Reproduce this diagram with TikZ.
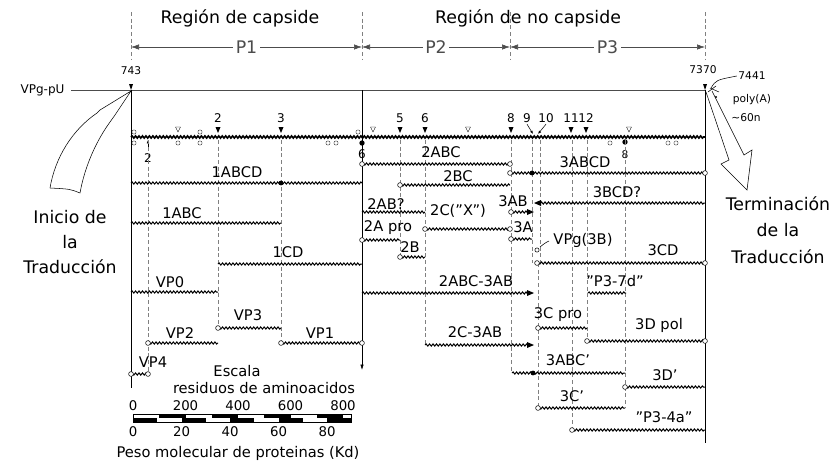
\documentclass[tikz,border=0pt]{standalone}
\usepackage{fontspec}
\setmainfont{DejaVu Sans}
\usetikzlibrary{arrows.meta,decorations.pathmorphing}

\begin{document}
\begin{tikzpicture}[x=0.75pt,y=-0.75pt,
  ttl/.style={font=\fontsize{13}{15}\selectfont},
  lb/.style={font=\fontsize{11}{12}\selectfont,inner sep=1pt},
  tn/.style={font=\fontsize{8}{9}\selectfont,inner sep=1pt},
  tk/.style={font=\fontsize{9}{10}\selectfont,inner sep=1pt},
  prot/.style={decorate,decoration={snake,amplitude=0.8pt,segment length=2.6pt},line width=0.75pt},
  guide/.style={gray,very thin,dash pattern=on 3pt off 2pt},
  dim/.style={{Latex[length=6pt,width=4pt]}-{Latex[length=6pt,width=4pt]},gray!60!black,thin}]
\useasboundingbox (0,0) rectangle (837,465);

% regiones y poliproteinas
\node[ttl] (capreg) at (240,18) {Región de capside};
\node[ttl] (nocapreg) at (528,18) {Región de no capside};
\foreach \x in {131,362,510,705}
  \draw[guide] (\x,12) -- (\x,60);
\coordinate (d0) at (131,47);
\coordinate (d1) at (362,47);
\coordinate (d2) at (510,47);
\coordinate (d3) at (705,47);
\draw[dim] (d0) -- node[ttl,fill=white,inner sep=2pt] (P1) {P1} (d1);
\draw[dim] (d1) -- node[ttl,fill=white,inner sep=2pt] (P2) {P2} (d2);
\draw[dim] (d2) -- node[ttl,fill=white,inner sep=2pt] (P3) {P3} (d3);

% RNA con VPg
\node[tk,anchor=east] (vpg) at (66,90) {VPg-pU};
\coordinate (r0) at (131,90);
\coordinate (r1) at (705,90);
\draw[gray!60!black] (vpg.east) ++(5,0) -- (r1);
\node[tn] (n743) at (131,71) {743};
\node[tn] (n7370) at (703,70) {7370};
\fill (129,84) -- (133,84) -- (131,90) -- cycle;
\fill (703,84) -- (707,84) -- (705,90) -- cycle;
\node[tn] (n7441) at (752,76) {7441};
\draw[thin] (711,88) .. controls (716,80) .. (n7441.west);
\draw[thin] (708,92) -- (716,86) (710,88) -- (719,92);
\fill (716,97) circle (0.9pt);
\node[tn] (polyA) at (752,100) {poly(A)};
\node[tn] (sixty) at (746,118) {∼60n};

% lineas verticales
\draw (r0) -- (131,388);
\draw[-{Latex[length=4pt,width=2.5pt]}] (362,90) -- (362,370);
\draw (r1) -- (705,443);

% genoma
\draw[prot,line width=1.2pt] (131,137) -- (705,137);
\foreach \x/\t in {218/2,281/3,400/5,425/6,511/8,571/11,586/12}{
  \fill (\x-2.5,127) -- (\x+2.5,127) -- (\x,133) -- cycle;
  \node[tk] (t\t) at (\x,118) {\t};
}
\node[tk] (t9) at (527,118) {9};
\node[tk] (t10) at (546,118) {10};
\draw[-{Latex[length=2.5pt,width=2pt]}] (t9.south) -- (533,134);
\draw[-{Latex[length=2.5pt,width=2pt]}] (t10.south) -- (538,134);
\foreach \x in {178,373,468,629}
  \draw[very thin] (\x-2.5,127) -- (\x+2.5,127) -- (\x,132) -- cycle;
\foreach \x/\y in {134/132,200/132,358/132,134/143,178/143,200/143,328/143,336/143,610/143,668/143,676/143}
  \draw[very thin] (\x,\y) circle (1.6pt);
\fill (362,143) circle (2pt);
\fill (625,142) circle (2pt);
\draw[-{Latex[length=2.5pt,width=2pt]}] (148,151) -- (148,140);
\node[tk] (b2) at (148,158) {2};
\node[tk] (b6) at (362,154) {6};
\node[tn] (b8) at (625,155) {8};

% guias
\foreach \x/\ya/\yb in {148/140/374,218/140/328,281/140/343,400/140/257,425/140/345,
    511/140/373,532/140/263,540/140/263,538/263/408,572/140/430,587/140/341,625/140/408}
  \draw[guide] (\x,\ya) -- (\x,\yb);

% proteinas
\foreach \xa/\xb/\y in {131/362/183,131/281/223,218/362/264,131/218/292,218/281/328,
    148/218/343,281/362/343,131/148/374,362/510/164,400/510/185,362/425/212,362/400/240,
    425/510/229,400/425/257,362/530/293,425/530/345,510/705/173,537/705/203,511/530/212,
    511/532/239,537/705/263,588/626/293,538/587/328,587/705/341,512/625/373,625/705/387,
    538/625/408,572/705/430}
  \draw[prot] (\xa,\y) -- (\xb,\y);
\foreach \x/\y in {218/328,148/343,281/343,362/343,131/374,148/374,362/164,510/164,
    400/185,362/240,425/229,510/229,400/257,510/173,705/173,511/212,511/239,537/263,
    705/263,538/328,587/341,705/341,625/387,538/408,572/430}
  \draw[fill=white,thin] (\x,\y) circle (1.8pt);
\foreach \y in {212,293,345}
  \fill (527,\y-3) -- (534,\y) -- (527,\y+3) -- cycle;
\fill (541,200) -- (534,203) -- (541,206) -- cycle;
\foreach \x/\y in {281/183,532/173,533/373}
  \fill (\x,\y) circle (1.8pt);
\draw[thin] (540,247) .. controls (545,243) .. (549,241);
\draw[thin] (537,250) circle (1.6pt);

% nombres
\foreach \x/\y/\t [count=\i] in {237/172/1ABCD,182/213/1ABC,288/252/1CD,170/282/VP0,
    248/315/VP3,180/333/VP2,320/333/VP1,153/362/VP4,441/152/2ABC,458/176/2BC,
    386/204/2AB?,388/228/2A pro,458/211/2C("X"),410/247/2B,476/281/2ABC-3AB,
    475/332/2C-3AB,585/162/3ABCD,617/192/3BCD?,513/201/3AB,523/227/3A,583/240/VPg(3B),
    663/250/3CD,615/281/"P3-7d",558/315/3C pro,659/325/3D pol,568/360/3ABC',
    665/375/3D',572/396/3C',664/417/"P3-4a"}
  \node[lb] (p\i) at (\x,\y) {\t};

% flechas de inicio y terminacion
\draw[thin] (50,188) .. controls (55,158) and (72,130) .. (97,113) -- (100,110) -- (131,91)
  -- (115,115) -- (110,122) .. controls (97,140) and (85,165) .. (80,193)
  .. controls (70,189) .. (50,188);
\node[ttl,align=center,font=\fontsize{13}{19}\selectfont] (inicio) at (70,242) {Inicio de\\la\\Traducción};
\draw[thin] (706,92) -- (729,160) -- (721,164) -- (747,190) -- (752,150) -- (744,155) -- (712,91);
\node[ttl,align=center,font=\fontsize{13}{20}\selectfont] (termin) at (778,230) {Terminación\\de la\\Traducción};

% escala
\node[lb] (escala) at (237,371) {Escala};
\node[lb] (resid) at (264,388) {residuos de aminoacidos};
\foreach \v [count=\i from 0] in {0,200,400,600,800}
  \node[lb,font=\fontsize{10}{11}\selectfont] (aa\i) at (133+\i*52.5,406) {\v};
\foreach \i in {1,3,5,7}
  \fill (133+\i*26.25,414) rectangle ++(26.25,4);
\foreach \i in {0,2,4,6,8}
  \fill (133+\i*24.25,418) rectangle ++(24.25,4);
\draw[thin] (133,414) rectangle (351,422);
\foreach \v [count=\i from 0] in {0,20,40,60,80}
  \node[lb,font=\fontsize{10}{11}\selectfont] (kd\i) at (133+\i*48.5,432) {\v};
\node[lb] (peso) at (238,453) {Peso molecular de proteinas (Kd)};
\end{tikzpicture}
\end{document}
